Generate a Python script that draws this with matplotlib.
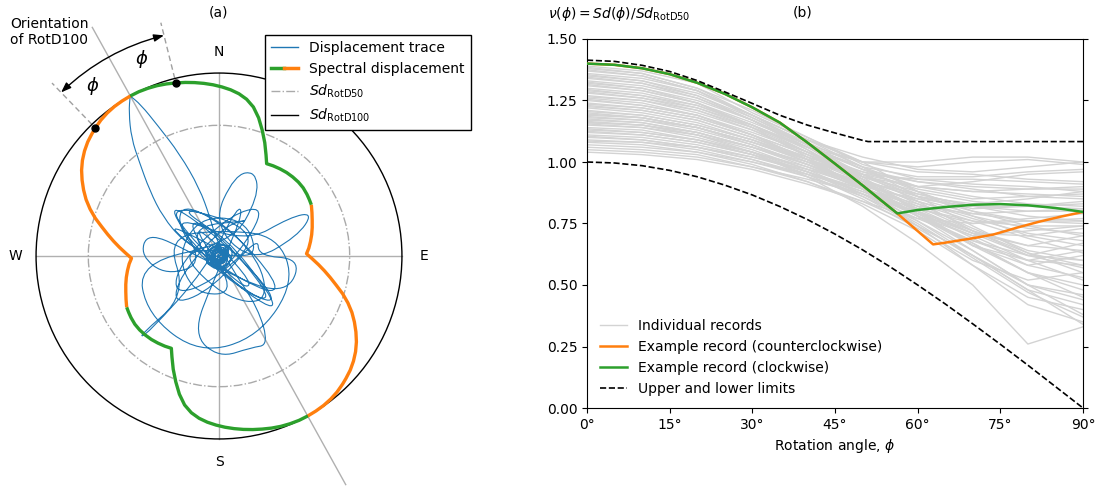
import matplotlib
matplotlib.use("Agg")
import matplotlib.pyplot as plt
import numpy as np
from matplotlib.path import Path
from matplotlib.patches import PathPatch, Circle
from matplotlib.lines import Line2D
from matplotlib.legend_handler import HandlerTuple

# ---------------- data ----------------
theta_rotd100 = -29.0   # azimuth of RotD100 (deg, clockwise from north)
phi_mark = 15.0         # rotation angle shown in panel (a)
sd_rotd50 = 1.0

# panel (a): Sd of the example record vs. clockwise angle psi from RotD100
psi_green = [0, 3, 6, 9, 12, 15, 18, 21, 24, 27, 30, 33, 36, 39, 42, 45, 48, 51, 54, 56.3,
             60, 64, 68, 72, 76, 80, 84, 87, 90]
sd_green = [1.400, 1.399, 1.394, 1.387, 1.377, 1.365, 1.353, 1.340, 1.326, 1.311, 1.294,
            1.275, 1.251, 1.218, 1.170, 1.100, 1.017, 0.935, 0.852, 0.795,
            0.805, 0.814, 0.822, 0.827, 0.830, 0.829, 0.822, 0.815, 0.808]
psi_orange = [90, 94, 98, 102, 106, 110, 114, 117.5, 121, 124, 127, 130, 133, 136, 139, 142,
              145, 148, 151, 154, 157, 160, 163, 165, 168, 171, 174, 177, 180]
sd_orange = [0.808, 0.785, 0.764, 0.746, 0.728, 0.709, 0.690, 0.670, 0.718, 0.765, 0.815,
             0.868, 0.925, 0.990, 1.050, 1.105, 1.153, 1.198, 1.240, 1.276, 1.306, 1.331,
             1.350, 1.362, 1.378, 1.389, 1.396, 1.399, 1.400]

# panel (b): example record, clockwise rotation
phi_cw = [0, 5, 10, 15, 20, 25, 30, 35, 40, 45, 50, 56.3, 60, 65, 70, 75, 80, 85, 90]
nu_cw = [1.400, 1.395, 1.381, 1.357, 1.322, 1.277, 1.222, 1.160, 1.079, 0.993, 0.905,
         0.791, 0.805, 0.817, 0.826, 0.829, 0.824, 0.813, 0.797]
# panel (b): example record, counterclockwise rotation
phi_ccw = [0, 5, 10, 15, 20, 25, 30, 35, 40, 45, 50, 56.3, 62.8, 65, 70, 73.7, 78, 82, 86, 90]
nu_ccw = [1.400, 1.395, 1.381, 1.357, 1.322, 1.277, 1.222, 1.160, 1.079, 0.993, 0.905,
          0.791, 0.665, 0.672, 0.690, 0.705, 0.733, 0.757, 0.778, 0.797]

# upper and lower limits
phi_lim = [0, 5, 10, 15, 20, 25, 30, 35, 40, 45, 50, 51, 55, 60, 65, 70, 75, 80, 85, 90]
upper_lim = [1.414, 1.409, 1.393, 1.368, 1.331, 1.285, 1.238, 1.190, 1.150, 1.118, 1.088,
             1.083, 1.083, 1.083, 1.083, 1.083, 1.083, 1.083, 1.083, 1.083]
lower_lim = [1.000, 0.996, 0.985, 0.966, 0.940, 0.906, 0.866, 0.819, 0.766, 0.707, 0.643,
             0.629, 0.574, 0.500, 0.423, 0.342, 0.259, 0.174, 0.087, 0.000]

# individual records (phi = 0, 10, ..., 90)
phi_rec = [0, 10, 20, 30, 40, 50, 60, 70, 80, 90]
records = [
    [1.39, 1.37, 1.32, 1.20, 1.10, 1.00, 0.88, 0.80, 0.76, 0.75],
    [1.385, 1.36, 1.30, 1.21, 1.10, 0.99, 0.93, 0.91, 0.90, 0.88],
    [1.38, 1.36, 1.30, 1.19, 1.09, 0.98, 0.90, 0.88, 0.89, 0.90],
    [1.375, 1.35, 1.29, 1.19, 1.07, 0.95, 0.84, 0.72, 0.62, 0.57],
    [1.37, 1.35, 1.29, 1.18, 1.07, 0.94, 0.80, 0.66, 0.55, 0.50],
    [1.36, 1.34, 1.29, 1.19, 1.09, 1.02, 0.97, 0.96, 0.98, 1.00],
    [1.355, 1.33, 1.28, 1.19, 1.09, 1.00, 0.98, 1.00, 1.01, 0.99],
    [1.35, 1.33, 1.27, 1.17, 1.05, 0.92, 0.78, 0.70, 0.72, 0.74],
    [1.345, 1.32, 1.26, 1.17, 1.06, 0.93, 0.80, 0.71, 0.66, 0.64],
    [1.34, 1.32, 1.27, 1.18, 1.08, 0.98, 0.86, 0.74, 0.63, 0.58],
    [1.33, 1.31, 1.26, 1.17, 1.07, 0.97, 0.90, 0.86, 0.83, 0.82],
    [1.325, 1.30, 1.25, 1.17, 1.07, 0.97, 0.92, 0.89, 0.86, 0.85],
    [1.32, 1.30, 1.24, 1.14, 1.02, 0.89, 0.74, 0.58, 0.45, 0.40],
    [1.315, 1.29, 1.24, 1.15, 1.04, 0.92, 0.78, 0.64, 0.50, 0.44],
    [1.31, 1.29, 1.24, 1.16, 1.07, 1.00, 0.96, 0.95, 0.93, 0.92],
    [1.30, 1.28, 1.23, 1.15, 1.05, 0.93, 0.80, 0.66, 0.60, 0.64],
    [1.295, 1.27, 1.23, 1.15, 1.06, 0.98, 0.94, 0.94, 0.96, 0.97],
    [1.29, 1.27, 1.22, 1.15, 1.06, 0.97, 0.88, 0.78, 0.70, 0.66],
    [1.285, 1.26, 1.22, 1.14, 1.04, 0.94, 0.86, 0.80, 0.74, 0.70],
    [1.28, 1.26, 1.21, 1.13, 1.03, 0.92, 0.81, 0.75, 0.77, 0.79],
    [1.27, 1.25, 1.21, 1.14, 1.06, 1.00, 1.00, 1.02, 1.02, 1.00],
    [1.265, 1.25, 1.20, 1.13, 1.04, 0.95, 0.86, 0.81, 0.82, 0.84],
    [1.26, 1.24, 1.19, 1.11, 1.01, 0.89, 0.76, 0.62, 0.48, 0.42],
    [1.255, 1.23, 1.19, 1.11, 1.01, 0.90, 0.78, 0.66, 0.58, 0.62],
    [1.25, 1.23, 1.19, 1.12, 1.04, 0.96, 0.89, 0.85, 0.86, 0.87],
    [1.24, 1.22, 1.18, 1.11, 1.03, 0.93, 0.83, 0.73, 0.64, 0.60],
    [1.235, 1.22, 1.18, 1.11, 1.03, 0.95, 0.87, 0.82, 0.80, 0.80],
    [1.23, 1.21, 1.17, 1.10, 1.02, 0.94, 0.90, 0.92, 0.95, 0.96],
    [1.225, 1.21, 1.17, 1.10, 1.01, 0.92, 0.82, 0.72, 0.66, 0.70],
    [1.22, 1.20, 1.16, 1.09, 1.00, 0.90, 0.79, 0.67, 0.55, 0.48],
    [1.21, 1.19, 1.15, 1.09, 1.01, 0.93, 0.85, 0.79, 0.76, 0.76],
    [1.205, 1.19, 1.15, 1.09, 1.02, 0.96, 0.92, 0.90, 0.89, 0.89],
    [1.20, 1.18, 1.14, 1.08, 1.00, 0.91, 0.81, 0.71, 0.62, 0.67],
    [1.195, 1.18, 1.14, 1.07, 0.99, 0.89, 0.78, 0.68, 0.60, 0.58],
    [1.19, 1.18, 1.14, 1.08, 1.01, 0.94, 0.88, 0.84, 0.82, 0.81],
    [1.185, 1.17, 1.14, 1.08, 1.01, 0.95, 0.90, 0.88, 0.87, 0.86],
    [1.18, 1.17, 1.13, 1.07, 0.99, 0.90, 0.80, 0.69, 0.58, 0.53],
    [1.175, 1.16, 1.12, 1.06, 0.98, 0.89, 0.79, 0.71, 0.70, 0.73],
    [1.17, 1.16, 1.12, 1.06, 0.99, 0.92, 0.86, 0.83, 0.85, 0.88],
    [1.165, 1.15, 1.12, 1.06, 0.99, 0.91, 0.84, 0.78, 0.73, 0.71],
    [1.16, 1.15, 1.11, 1.05, 0.97, 0.87, 0.75, 0.61, 0.47, 0.37],
    [1.16, 1.15, 1.11, 1.04, 0.94, 0.82, 0.67, 0.50, 0.26, 0.33],
    [1.155, 1.14, 1.10, 1.04, 0.96, 0.86, 0.74, 0.62, 0.50, 0.46],
    [1.15, 1.14, 1.11, 1.06, 1.00, 0.95, 0.93, 0.93, 0.92, 0.91],
    [1.14, 1.13, 1.09, 1.03, 0.95, 0.85, 0.73, 0.60, 0.52, 0.55],
    [1.135, 1.12, 1.09, 1.04, 0.97, 0.90, 0.85, 0.82, 0.82, 0.83],
    [1.13, 1.12, 1.09, 1.04, 0.98, 0.91, 0.84, 0.77, 0.71, 0.68],
    [1.125, 1.11, 1.08, 1.03, 0.96, 0.87, 0.77, 0.68, 0.62, 0.60],
    [1.12, 1.11, 1.08, 1.03, 0.96, 0.88, 0.78, 0.67, 0.55, 0.45],
    [1.11, 1.10, 1.07, 1.02, 0.96, 0.89, 0.82, 0.79, 0.80, 0.81],
    [1.105, 1.09, 1.06, 1.01, 0.95, 0.88, 0.81, 0.76, 0.74, 0.74],
    [1.10, 1.09, 1.06, 1.01, 0.94, 0.86, 0.76, 0.64, 0.50, 0.38],
    [1.09, 1.08, 1.06, 1.02, 0.97, 0.92, 0.87, 0.82, 0.78, 0.76],
    [1.085, 1.08, 1.05, 1.00, 0.94, 0.87, 0.79, 0.70, 0.60, 0.52],
    [1.08, 1.07, 1.04, 0.99, 0.92, 0.83, 0.72, 0.58, 0.42, 0.35],
    [1.07, 1.06, 1.04, 1.00, 0.95, 0.89, 0.83, 0.76, 0.69, 0.63],
    [1.06, 1.05, 1.03, 0.98, 0.92, 0.84, 0.74, 0.62, 0.48, 0.34],
    [1.05, 1.04, 1.02, 0.98, 0.93, 0.87, 0.80, 0.72, 0.63, 0.55],
    [1.04, 1.03, 1.01, 0.97, 0.91, 0.84, 0.77, 0.75, 0.76, 0.77],
]

# displacement trace of the example record (same units as Sd)
trace = [
    # early motion, small
    (0.00, 0.00), (0.05, 0.03), (-0.04, 0.06), (-0.07, -0.02), (0.02, -0.07), (0.08, 0.01), (0.03, 0.08),
    (-0.06, 0.04), (-0.05, -0.06), (0.04, -0.04), (0.09, 0.06), (-0.01, 0.10), (-0.09, 0.01), (-0.03, -0.09),
    (0.06, -0.08), (0.07, 0.07), (-0.08, 0.07), (-0.10, -0.05), (0.01, -0.11), (0.11, -0.02), (0.04, 0.05),
    (-0.05, 0.02), (0.02, -0.03), (0.06, 0.04), (-0.03, 0.07),
    (0.03, 0.02), (-0.04, 0.03), (-0.02, -0.04), (0.05, -0.02), (0.01, 0.05), (-0.05, -0.01),
    (0.03, -0.05), (0.04, 0.04), (-0.03, 0.05), (-0.05, -0.04), (0.02, -0.02), (0.06, 0.01),
    # growing loops
    (0.30, 0.00), (0.20, 0.28), (-0.15, 0.30), (-0.32, 0.00), (-0.18, -0.30), (0.15, -0.28),
    (-0.22, 0.25), (0.00, 0.08), (0.25, -0.20), (0.20, -0.25), (-0.02, -0.05), (-0.25, 0.18),
    (-0.37, 0.37), (-0.04, 0.32), (0.32, -0.04), (0.37, -0.37), (0.04, -0.32), (-0.32, 0.04),
    (0.10, 0.04), (-0.02, 0.12), (-0.12, 0.02), (-0.06, -0.10), (0.07, -0.10), (0.12, 0.08), (-0.07, 0.09),
    (-0.11, -0.08), (0.03, -0.06), (0.08, 0.10), (-0.04, -0.02), (0.05, -0.12),
    (0.38, 0.38), (0.10, 0.33), (-0.30, -0.05), (-0.35, -0.30), (-0.05, -0.20), (0.35, 0.18),
    (-0.35, 0.40), (0.02, 0.15), (0.38, -0.28), (0.33, -0.35), (-0.02, -0.10), (-0.40, 0.33),
    (0.20, 0.10), (0.55, 0.30), (0.72, 0.33), (0.60, 0.15), (0.25, -0.05),
    (-0.05, 0.25), (0.12, 0.62), (0.28, 0.65), (0.30, 0.45), (0.10, 0.10),
    (-0.62, -0.05), (-0.55, -0.45), (-0.15, -0.75), (0.30, -0.62), (0.58, -0.20), (0.45, 0.15),
    (0.05, 0.20), (-0.40, 0.15),
    (-0.25, -0.30), (-0.62, -0.62), (-0.55, -0.60), (-0.10, -0.10), (0.15, 0.40), (0.18, 0.30),
    (-0.05, -0.20), (-0.20, -0.60), (0.00, -0.78), (0.25, -0.70), (0.38, -0.68), (0.30, -0.40), (0.10, -0.10),
    # excursion towards RotD100
    (-0.02, 0.12), (-0.07, 0.30), (-0.15, 0.52), (-0.30, 0.78), (-0.47, 1.00), (-0.60, 1.16),
    (-0.68, 1.225), (-0.68, 1.225), (-0.69, 1.10), (-0.67, 0.90), (-0.61, 0.72), (-0.53, 0.50),
    (-0.43, 0.30), (-0.28, 0.12), (-0.10, 0.02),
    # decaying loops
    (-0.25, 0.30), (0.05, 0.15), (0.40, -0.30), (0.42, -0.42), (0.10, -0.20), (-0.28, 0.22),
    (0.30, 0.28), (0.05, 0.25), (-0.30, -0.15), (-0.35, -0.38), (-0.05, -0.25), (0.30, 0.15),
    (0.30, 0.00), (0.62, -0.02), (0.55, -0.25), (0.30, -0.25),
    (-0.25, 0.05), (-0.55, 0.18), (-0.60, 0.00), (-0.40, -0.15), (-0.10, -0.05),
    (-0.42, 0.42), (-0.10, 0.22), (0.30, -0.15), (0.45, -0.38), (0.15, -0.25), (-0.30, 0.15),
    (-0.30, 0.42), (0.10, 0.20), (0.45, -0.20), (0.40, -0.30), (-0.05, -0.05), (-0.45, 0.28),
    (0.06, 0.02), (-0.03, 0.08), (-0.08, -0.03), (0.02, -0.08), (0.09, 0.05), (-0.06, 0.05),
    (-0.04, -0.07), (0.07, -0.05), (0.00, 0.03),
    (-0.01, 0.06), (-0.06, 0.02), (0.00, -0.06), (0.05, 0.05), (-0.04, -0.05), (0.04, -0.04),
    (-0.02, 0.02), (0.00, 0.00),
]
trace_x = [p[0] for p in trace]
trace_y = [p[1] for p in trace]

green = "#2ca02c"
orange = "#ff7f0e"
lgray = "#b0b0b0"


def xy(r, az):
    az = np.radians(az)
    return np.asarray(r) * np.sin(az), np.asarray(r) * np.cos(az)


def smooth_path(x, y):
    pts = np.column_stack([x, y])
    mids = (pts[:-1] + pts[1:]) / 2
    verts = [pts[0], mids[0]]
    codes = [Path.MOVETO, Path.LINETO]
    for i in range(1, len(pts) - 1):
        verts += [pts[i], mids[i]]
        codes += [Path.CURVE3, Path.CURVE3]
    verts.append(pts[-1])
    codes.append(Path.LINETO)
    return Path(verts, codes)


fig = plt.figure(figsize=(11.03, 4.86), dpi=100)

# ---------------- panel (a) ----------------
ax1 = fig.add_axes([0, 0, 438 / 1103, 1])
ax1.set_xlim(-1.676, 1.676)
ax1.set_ylim(-1.760, 1.959)
ax1.axis("off")

sd100 = sd_green[0]
ax1.plot([0, 0], [-sd100, sd100], color=lgray, lw=1, zorder=1)
ax1.plot([-sd100, sd100], [0, 0], color=lgray, lw=1, zorder=1)
ox, oy = xy([-2.0, 2.0], theta_rotd100)
ax1.plot(ox, oy, color=lgray, lw=1, zorder=1)
for az in [theta_rotd100 + phi_mark, theta_rotd100 - phi_mark]:
    dx, dy = xy([sd100, 1.84], az)
    ax1.plot(dx, dy, color="#a0a0a0", lw=1, ls=(0, (4, 2.5)), zorder=1)

ax1.add_patch(PathPatch(smooth_path(trace_x, trace_y), fill=False, edgecolor="#1f77b4", lw=0.8, zorder=2))
ax1.add_patch(Circle((0, 0), sd_rotd50, fill=False, edgecolor="#aaaaaa", lw=1, ls="-.", zorder=2))
ax1.add_patch(Circle((0, 0), sd100, fill=False, edgecolor="k", lw=1, zorder=2))

for base in [0, 180]:
    gx, gy = xy(sd_green, theta_rotd100 + base + np.array(psi_green))
    ax1.plot(gx, gy, color=green, lw=2.4, solid_capstyle="butt", solid_joinstyle="round", zorder=3)
    ox_, oy_ = xy(sd_orange, theta_rotd100 + base + np.array(psi_orange))
    ax1.plot(ox_, oy_, color=orange, lw=2.4, solid_capstyle="butt", solid_joinstyle="round", zorder=3)

ig = psi_green.index(phi_mark)
io = psi_orange.index(180 - phi_mark)
mx, my = xy([sd_green[ig], sd_orange[io]], [theta_rotd100 + phi_mark, theta_rotd100 - phi_mark])
ax1.plot(mx, my, "o", color="k", ms=5, zorder=4)

a1 = xy(1.74, theta_rotd100 - phi_mark)
a2 = xy(1.74, theta_rotd100 + phi_mark)
ax1.annotate("", xy=a1, xytext=a2,
             arrowprops=dict(arrowstyle="<|-|>,head_length=0.6,head_width=0.22", color="k", lw=1,
                             connectionstyle="arc3,rad=0.13", shrinkA=0, shrinkB=0))
for az in [theta_rotd100 + phi_mark / 2, theta_rotd100 - phi_mark / 2]:
    tx, ty = xy(1.62, az)
    ax1.text(tx, ty, r"$\phi$", fontsize=13, ha="center", va="center")

ax1.text(0, 1.56, "N", ha="center", va="center", fontsize=10)
ax1.text(0, -1.58, "S", ha="center", va="center", fontsize=10)
ax1.text(-1.56, 0, "W", ha="center", va="center", fontsize=10)
ax1.text(1.57, 0, "E", ha="center", va="center", fontsize=10)

fig.text(10 / 1103, 1 - 17 / 486, "Orientation\nof RotD100", ha="left", va="top", fontsize=10)
fig.text(218 / 1103, 1 - 13 / 486, "(a)", ha="center", va="center", fontsize=10)

h_trace = Line2D([], [], color="#1f77b4", lw=1)
h_g = Line2D([], [], color=green, lw=2.5)
h_o = Line2D([], [], color=orange, lw=2.5)
h_50 = Line2D([], [], color="#aaaaaa", lw=1, ls="-.")
h_100 = Line2D([], [], color="k", lw=1)
leg1 = ax1.legend([h_trace, (h_g, h_o), h_50, h_100],
                  ["Displacement trace", "Spectral displacement",
                   r"$Sd_{\mathrm{RotD50}}$", r"$Sd_{\mathrm{RotD100}}$"],
                  handler_map={tuple: HandlerTuple(ndivide=None, pad=0)},
                  loc="upper left", bbox_to_anchor=(265 / 1103, 1 - 35 / 486),
                  bbox_transform=fig.transFigure, borderaxespad=0,
                  fancybox=False, framealpha=1, edgecolor="k", fontsize=10)
leg1.get_frame().set_linewidth(1)

# ---------------- panel (b) ----------------
ax2 = fig.add_axes([587 / 1103, 78 / 486, 496 / 1103, 369 / 486])
for i, rec in enumerate(records):
    ax2.plot(phi_rec, rec, color="#d3d3d3", lw=1,
             label="Individual records" if i == 0 else None, zorder=1)
ax2.plot(phi_ccw, nu_ccw, color=orange, lw=1.8, label="Example record (counterclockwise)", zorder=3)
ax2.plot(phi_cw, nu_cw, color=green, lw=1.8, label="Example record (clockwise)", zorder=4)
ax2.plot(phi_lim, upper_lim, "k--", lw=1.2, label="Upper and lower limits", zorder=5)
ax2.plot(phi_lim, lower_lim, "k--", lw=1.2, zorder=5)

ax2.set_xlim(0, 90)
ax2.set_ylim(0, 1.5)
ax2.set_xticks(range(0, 91, 15))
ax2.set_xticklabels([f"{t}°" for t in range(0, 91, 15)])
ax2.set_yticks(np.arange(0, 1.51, 0.25))
ax2.set_yticklabels([f"{t:.2f}" for t in np.arange(0, 1.51, 0.25)])
ax2.tick_params(right=True, labelsize=10)
ax2.set_xlabel(r"Rotation angle, $\phi$", fontsize=10)
ax2.legend(loc="lower left", frameon=False, fontsize=10)

fig.text(548 / 1103, 1 - 14 / 486, r"$\nu(\phi) = Sd(\phi)/Sd_{\mathrm{RotD50}}$", ha="left", va="center", fontsize=10)
fig.text(803 / 1103, 1 - 13 / 486, "(b)", ha="center", va="center", fontsize=10)

fig.savefig("out.png", dpi=100)
